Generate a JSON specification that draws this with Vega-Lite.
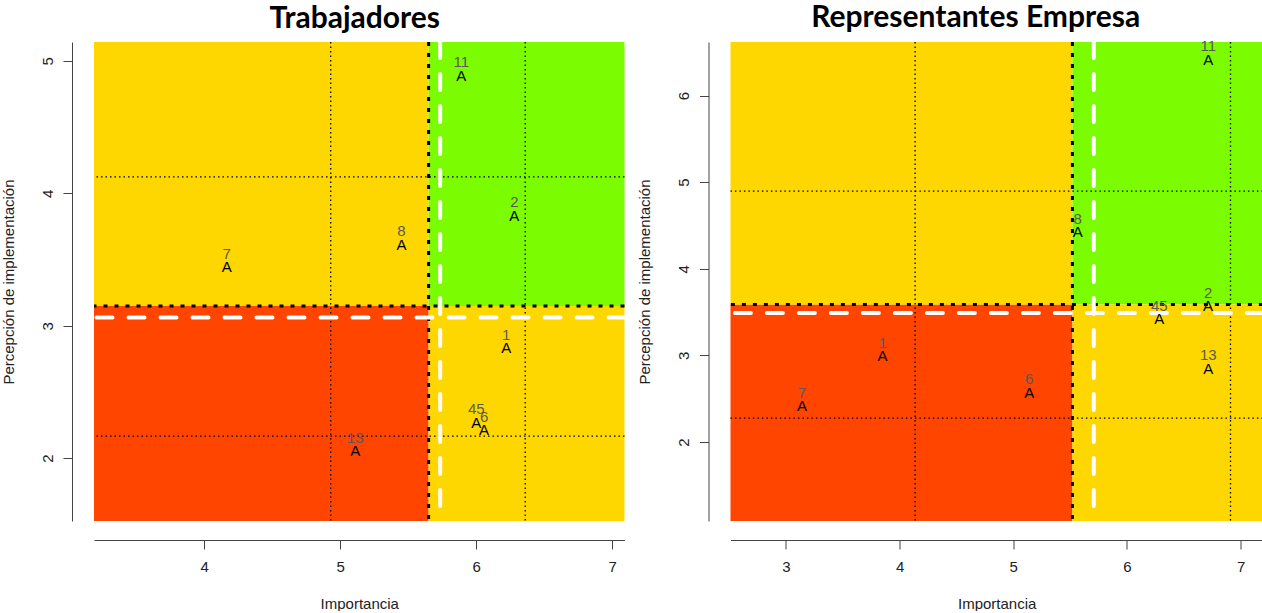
{
  "$schema": "https://vega.github.io/schema/vega-lite/v6.json",
  "padding": {"left": 1, "top": 3, "right": 0, "bottom": 0},
  "bounds": "flush",
  "spacing": 105.5,
  "background": "white",
  "config": {
    "view": {"stroke": null},
    "axis": {"grid": false, "format": "d", "domainColor": "#444444", "tickColor": "#444444", "tickSize": 9, "labelFont": "Liberation Sans", "labelFontSize": 15, "labelColor": "#222222", "titleFont": "Liberation Sans", "titleFontSize": 15, "titleFontWeight": "normal", "titleColor": "#222222"},
    "axisX": {"offset": 19, "labelPadding": 10, "titlePadding": 22},
    "axisY": {"offset": 22, "labelAngle": -90, "labelAlign": "center", "labelBaseline": "bottom", "labelPadding": 8, "titlePadding": 24},
    "title": {"font": "Lato", "fontSize": 30, "fontWeight": "bold", "color": "black", "anchor": "middle", "baseline": "alphabetic", "offset": 6}
  },
  "datasets": {
    "zonasT": [
      {"zona": "roja", "x1": 3.19, "x2": 5.65, "y1": 1.525, "y2": 3.149},
      {"zona": "amarilla", "x1": 3.19, "x2": 5.65, "y1": 3.149, "y2": 5.143},
      {"zona": "verde", "x1": 5.65, "x2": 7.09, "y1": 3.149, "y2": 5.143},
      {"zona": "amarilla", "x1": 5.65, "x2": 7.09, "y1": 1.525, "y2": 3.149}
    ],
    "lineasT": [
      {"tipo": "referencia", "eje": "x", "valor": 4.93},
      {"tipo": "referencia", "eje": "x", "valor": 6.36},
      {"tipo": "referencia", "eje": "y", "valor": 4.125},
      {"tipo": "referencia", "eje": "y", "valor": 2.166},
      {"tipo": "corte", "eje": "x", "valor": 5.65},
      {"tipo": "corte", "eje": "y", "valor": 3.149},
      {"tipo": "media", "eje": "x", "valor": 5.735},
      {"tipo": "media", "eje": "y", "valor": 3.063}
    ],
    "puntosT": [
      {"id": "1", "importancia": 6.22, "percepcion": 2.83},
      {"id": "2", "importancia": 6.28, "percepcion": 3.83},
      {"id": "45", "importancia": 6.0, "percepcion": 2.268},
      {"id": "6", "importancia": 6.058, "percepcion": 2.212},
      {"id": "7", "importancia": 4.165, "percepcion": 3.44},
      {"id": "8", "importancia": 5.45, "percepcion": 3.61},
      {"id": "11", "importancia": 5.89, "percepcion": 4.887},
      {"id": "13", "importancia": 5.11, "percepcion": 2.05}
    ],
    "zonasE": [
      {"zona": "roja", "x1": 2.512, "x2": 5.52, "y1": 1.089, "y2": 3.589},
      {"zona": "amarilla", "x1": 2.512, "x2": 5.52, "y1": 3.589, "y2": 6.618},
      {"zona": "verde", "x1": 5.52, "x2": 7.196, "y1": 3.589, "y2": 6.618},
      {"zona": "amarilla", "x1": 5.52, "x2": 7.196, "y1": 1.089, "y2": 3.589}
    ],
    "lineasE": [
      {"tipo": "referencia", "eje": "x", "valor": 4.136},
      {"tipo": "referencia", "eje": "x", "valor": 6.911},
      {"tipo": "referencia", "eje": "y", "valor": 4.896},
      {"tipo": "referencia", "eje": "y", "valor": 2.277},
      {"tipo": "corte", "eje": "x", "valor": 5.52},
      {"tipo": "corte", "eje": "y", "valor": 3.589},
      {"tipo": "media", "eje": "x", "valor": 5.708},
      {"tipo": "media", "eje": "y", "valor": 3.489}
    ],
    "puntosE": [
      {"id": "1", "importancia": 3.85, "percepcion": 2.99},
      {"id": "2", "importancia": 6.714, "percepcion": 3.569},
      {"id": "45", "importancia": 6.285, "percepcion": 3.418},
      {"id": "6", "importancia": 5.14, "percepcion": 2.57},
      {"id": "7", "importancia": 3.14, "percepcion": 2.415},
      {"id": "8", "importancia": 5.566, "percepcion": 4.423},
      {"id": "11", "importancia": 6.716, "percepcion": 6.415},
      {"id": "13", "importancia": 6.716, "percepcion": 2.846}
    ]
  },
  "hconcat": [
    {
      "title": {"text": "Trabajadores", "dx": -4.5},
      "width": 530.5,
      "height": 479,
      "layer": [
        {
          "data": {"name": "zonasT"},
          "mark": {"type": "rect"},
          "encoding": {
            "x": {"field": "x1", "type": "quantitative", "scale": {"domain": [3.19, 7.09], "nice": false, "zero": false}, "axis": {"values": [4, 5, 6, 7], "title": "Importancia"}},
            "x2": {"field": "x2"},
            "y": {"field": "y1", "type": "quantitative", "scale": {"domain": [1.525, 5.143], "nice": false, "zero": false}, "axis": {"values": [2, 3, 4, 5], "title": "Percepción de implementación"}},
            "y2": {"field": "y2"},
            "color": {"field": "zona", "type": "nominal", "scale": {"domain": ["roja", "amarilla", "verde"], "range": ["#FF4500", "#FFD700", "#7CFC00"]}, "legend": null}
          }
        },
        {
          "data": {"name": "lineasT"},
          "transform": [{"filter": "datum.tipo === 'referencia' && datum.eje === 'x'"}],
          "mark": {"type": "rule", "color": "black", "strokeWidth": 1.3, "strokeDash": [1.5, 3]},
          "encoding": {"x": {"field": "valor", "type": "quantitative"}}
        },
        {
          "data": {"name": "lineasT"},
          "transform": [{"filter": "datum.tipo === 'referencia' && datum.eje === 'y'"}],
          "mark": {"type": "rule", "color": "black", "strokeWidth": 1.3, "strokeDash": [1.5, 3]},
          "encoding": {"y": {"field": "valor", "type": "quantitative"}}
        },
        {
          "data": {"name": "lineasT"},
          "transform": [{"filter": "datum.tipo === 'corte' && datum.eje === 'x'"}],
          "mark": {"type": "rule", "color": "black", "strokeWidth": 3, "strokeDash": [4, 7]},
          "encoding": {"x": {"field": "valor", "type": "quantitative"}}
        },
        {
          "data": {"name": "lineasT"},
          "transform": [{"filter": "datum.tipo === 'corte' && datum.eje === 'y'"}],
          "mark": {"type": "rule", "color": "black", "strokeWidth": 3, "strokeDash": [4, 7]},
          "encoding": {"y": {"field": "valor", "type": "quantitative"}}
        },
        {
          "data": {"name": "lineasT"},
          "transform": [{"filter": "datum.tipo === 'media' && datum.eje === 'x'"}],
          "mark": {"type": "rule", "color": "white", "strokeWidth": 4, "strokeDash": [16, 16], "strokeCap": "round"},
          "encoding": {"x": {"field": "valor", "type": "quantitative"}}
        },
        {
          "data": {"name": "lineasT"},
          "transform": [{"filter": "datum.tipo === 'media' && datum.eje === 'y'"}],
          "mark": {"type": "rule", "color": "white", "strokeWidth": 4, "strokeDash": [16, 16], "strokeCap": "round"},
          "encoding": {"y": {"field": "valor", "type": "quantitative"}}
        },
        {
          "data": {"name": "puntosT"},
          "mark": {"type": "text", "text": "A", "font": "Liberation Sans", "fontSize": 15, "color": "black", "baseline": "middle"},
          "encoding": {"x": {"field": "importancia", "type": "quantitative"}, "y": {"field": "percepcion", "type": "quantitative"}}
        },
        {
          "data": {"name": "puntosT"},
          "mark": {"type": "text", "font": "Liberation Sans", "fontSize": 15, "color": "#5a5a5a", "baseline": "middle", "dy": -13.5},
          "encoding": {"x": {"field": "importancia", "type": "quantitative"}, "y": {"field": "percepcion", "type": "quantitative"}, "text": {"field": "id"}}
        }
      ]
    },
    {
      "title": {"text": "Representantes Empresa", "dx": -21},
      "width": 532.4,
      "height": 479,
      "layer": [
        {
          "data": {"name": "zonasE"},
          "mark": {"type": "rect"},
          "encoding": {
            "x": {"field": "x1", "type": "quantitative", "scale": {"domain": [2.512, 7.196], "nice": false, "zero": false}, "axis": {"values": [3, 4, 5, 6, 7], "title": "Importancia"}},
            "x2": {"field": "x2"},
            "y": {"field": "y1", "type": "quantitative", "scale": {"domain": [1.089, 6.618], "nice": false, "zero": false}, "axis": {"values": [1, 2, 3, 4, 5, 6], "title": "Percepción de implementación"}},
            "y2": {"field": "y2"},
            "color": {"field": "zona", "type": "nominal", "scale": {"domain": ["roja", "amarilla", "verde"], "range": ["#FF4500", "#FFD700", "#7CFC00"]}, "legend": null}
          }
        },
        {
          "data": {"name": "lineasE"},
          "transform": [{"filter": "datum.tipo === 'referencia' && datum.eje === 'x'"}],
          "mark": {"type": "rule", "color": "black", "strokeWidth": 1.3, "strokeDash": [1.5, 3]},
          "encoding": {"x": {"field": "valor", "type": "quantitative"}}
        },
        {
          "data": {"name": "lineasE"},
          "transform": [{"filter": "datum.tipo === 'referencia' && datum.eje === 'y'"}],
          "mark": {"type": "rule", "color": "black", "strokeWidth": 1.3, "strokeDash": [1.5, 3]},
          "encoding": {"y": {"field": "valor", "type": "quantitative"}}
        },
        {
          "data": {"name": "lineasE"},
          "transform": [{"filter": "datum.tipo === 'corte' && datum.eje === 'x'"}],
          "mark": {"type": "rule", "color": "black", "strokeWidth": 3, "strokeDash": [4, 7]},
          "encoding": {"x": {"field": "valor", "type": "quantitative"}}
        },
        {
          "data": {"name": "lineasE"},
          "transform": [{"filter": "datum.tipo === 'corte' && datum.eje === 'y'"}],
          "mark": {"type": "rule", "color": "black", "strokeWidth": 3, "strokeDash": [4, 7]},
          "encoding": {"y": {"field": "valor", "type": "quantitative"}}
        },
        {
          "data": {"name": "lineasE"},
          "transform": [{"filter": "datum.tipo === 'media' && datum.eje === 'x'"}],
          "mark": {"type": "rule", "color": "white", "strokeWidth": 4, "strokeDash": [16, 16], "strokeCap": "round"},
          "encoding": {"x": {"field": "valor", "type": "quantitative"}}
        },
        {
          "data": {"name": "lineasE"},
          "transform": [{"filter": "datum.tipo === 'media' && datum.eje === 'y'"}],
          "mark": {"type": "rule", "color": "white", "strokeWidth": 4, "strokeDash": [16, 16], "strokeCap": "round"},
          "encoding": {"y": {"field": "valor", "type": "quantitative"}}
        },
        {
          "data": {"name": "puntosE"},
          "mark": {"type": "text", "text": "A", "font": "Liberation Sans", "fontSize": 15, "color": "black", "baseline": "middle"},
          "encoding": {"x": {"field": "importancia", "type": "quantitative"}, "y": {"field": "percepcion", "type": "quantitative"}}
        },
        {
          "data": {"name": "puntosE"},
          "mark": {"type": "text", "font": "Liberation Sans", "fontSize": 15, "color": "#5a5a5a", "baseline": "middle", "dy": -13.5},
          "encoding": {"x": {"field": "importancia", "type": "quantitative"}, "y": {"field": "percepcion", "type": "quantitative"}, "text": {"field": "id"}}
        }
      ]
    }
  ]
}
